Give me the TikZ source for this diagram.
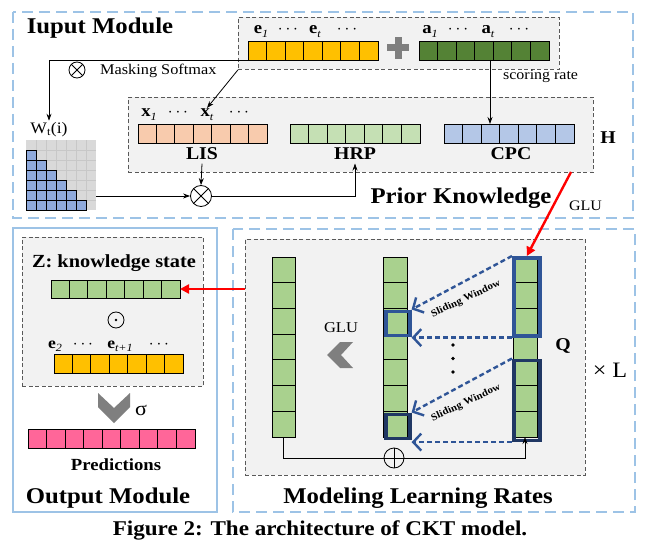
\documentclass[tikz,border=0pt]{standalone}
\usepackage{fontspec}
\setmainfont[FakeStretch=1.1]{Liberation Serif}
\usetikzlibrary{arrows.meta}
\definecolor{boxblue}{HTML}{9DC3E6}
\definecolor{panelgray}{HTML}{F2F2F2}
\definecolor{eyel}{HTML}{FFC000}
\definecolor{agreen}{HTML}{548235}
\definecolor{salmon}{HTML}{F8CBAD}
\definecolor{lgreen}{HTML}{C5E0B4}
\definecolor{lblue}{HTML}{B4C7E7}
\definecolor{mgreen}{HTML}{A9D18E}
\definecolor{pinkc}{HTML}{FF6699}
\definecolor{mblue}{HTML}{8FAADC}
\definecolor{mgray}{HTML}{D9D9D9}
\definecolor{hblue}{HTML}{2F5597}
\definecolor{navy}{HTML}{203864}
\definecolor{chev}{HTML}{7F7F7F}
\newcommand\fsz[1]{\fontsize{#1}{#1}\selectfont}
\newcommand\lsub[1]{\raisebox{-0.45ex}{\fsz{11}\mdseries\itshape #1}}
\newcommand\cellrow[7]{%
  \node[draw, fill=#7, line width=0.8pt, inner sep=0pt, outer sep=0pt, anchor=north west,
        minimum width={(#4)-(#2)}, minimum height={(#5)-(#3)}] (#1) at (#2,#3) {};
  \pgfmathtruncatemacro\nm{#6-1}
  \foreach \k in {1,...,\nm}{%
    \pgfmathsetmacro\xx{#2+(#4-#2)*\k/#6}
    \draw[line width=0.8pt] (\xx,#3) -- (\xx,#5);}
}
\newcommand\cellcol[7]{%
  \node[draw, fill=#7, line width=0.8pt, inner sep=0pt, outer sep=0pt, anchor=north west,
        minimum width={(#4)-(#2)}, minimum height={(#5)-(#3)}] (#1) at (#2,#3) {};
  \pgfmathtruncatemacro\nm{#6-1}
  \foreach \k in {1,...,\nm}{%
    \pgfmathsetmacro\yy{#3+(#5-#3)*\k/#6}
    \draw[line width=0.8pt] (#2,\yy) -- (#4,\yy);}
}
\tikzset{
  outerd/.style={draw=boxblue, line width=2.6pt, dash pattern=on 11pt off 6pt},
  outers/.style={draw=boxblue, line width=2.6pt},
  panel/.style={draw=black!65, fill=panelgray, line width=0.8pt, dash pattern=on 4pt off 2.5pt,
                inner sep=0pt, anchor=north west},
  arr/.style={line width=0.8pt, -{Stealth[length=7pt,width=5pt]}},
  redarr/.style={draw=red, line width=2.4pt, -{Triangle[length=9pt,width=9pt]}},
  slide/.style={draw=hblue, line width=2.4pt, dash pattern=on 5pt off 3pt,
                -{Straight Barb[length=8pt,width=17pt,line width=2.4pt]}},
  hl/.style={draw=#1, line width=3.6pt, inner sep=0pt, anchor=north west},
  opc/.style={draw, circle, line width=0.8pt, inner sep=0pt, minimum size=#1},
  title/.style={font=\fsz{22.5}\bfseries, anchor=base},
  lab/.style={font=\fsz{18}\bfseries, anchor=base},
  emb/.style={font=\fsz{17}, anchor=base, inner sep=1pt},
}
\begin{document}
\begin{tikzpicture}[x=1pt,y=-1pt]
\useasboundingbox (0,0) rectangle (646,543);
\fill[white] (0,0) rectangle (646,543);

% ---------- outer module boxes
\draw[outerd] (13,12) rectangle (633,218);
\draw[outers] (13,228) rectangle (217,512);
\draw[outerd] (233,229) rectangle (635,512);

% ---------- input module
\node[title] (tin) at (100,34) {Iuput Module};
\node[panel, minimum width=321, minimum height=52] (embp) at (238,17) {};
\cellrow{E}{248}{41}{378}{60}{7}{eyel}
\cellrow{A}{419}{41}{549}{60}{7}{agreen}
\fill[chev] (394.5,37) rectangle (401.5,59);
\fill[chev] (387,44.5) rectangle (409,51.5);
\node[emb] (e1) at (261,34) {\textbf{e}\lsub{1}};
\node[emb] (d1) at (288,34) {$\cdots$};
\node[emb] (et) at (315,34) {\textbf{e}\lsub{t}};
\node[emb] (d2) at (347,34) {$\cdots$};
\node[emb] (a1) at (430,34) {\textbf{a}\lsub{1}};
\node[emb] (d3) at (458,34) {$\cdots$};
\node[emb] (at) at (488,34) {\textbf{a}\lsub{t}};
\node[emb] (d4) at (519,34) {$\cdots$};

\node[panel, minimum width=465, minimum height=75] (prior) at (128,97) {};
\cellrow{LIS}{138}{124}{267}{143}{7}{salmon}
\cellrow{HRP}{290}{124}{420}{143}{7}{lgreen}
\cellrow{CPC}{444}{124}{574}{143}{7}{lblue}
\node[lab] (lisl) at (202,160) {LIS};
\node[lab] (hrpl) at (355,160) {HRP};
\node[lab] (cpcl) at (511,160) {CPC};
\node[emb] (x1) at (149,117) {\textbf{x}\lsub{1}};
\node[emb] (d5) at (178,117) {$\cdots$};
\node[emb] (xt) at (207,117) {\textbf{x}\lsub{t}};
\node[emb] (d6) at (239,117) {$\cdots$};
\node[lab] (hl) at (608,143) {H};
\node[title] (tprior) at (461,203) {Prior Knowledge};

% scoring rate
\coordinate (sr) at (490,60);
\draw[arr] (sr) -- (sr |- CPC.north);
\node[font=\fsz{14.5}, anchor=base west, inner sep=0pt] (srl) at (503,80) {scoring rate};

% masking softmax
\node[opc=16] (ms) at (77,70) {};
\draw[line width=0.8pt] (ms.north west) -- (ms.south east) (ms.north east) -- (ms.south west);
\node[font=\fsz{14.8}, anchor=base west, inner sep=0pt] (msl) at (100,75) {Masking Softmax};
\node[font=\fsz{16}, anchor=base, inner sep=1pt] (wl) at (49,133) {W\textsubscript{t}(i)};
\draw[arr] (E.south west) -| (wl.north);
\draw[arr] (embp.south west) -- (xt.north);

% matrix
\node[inner sep=0pt, outer sep=0pt, minimum size=70, anchor=north west] (mat) at (26,140) {};
\fill[mgray] (26,140) rectangle (96,210);
\foreach \i in {1,...,6}{
  \draw[black!22, line width=0.6pt] (26+10*\i,140) -- (26+10*\i,210);
  \draw[black!22, line width=0.6pt] (26,140+10*\i) -- (96,140+10*\i);
}
\foreach \r in {1,...,6}{
  \pgfmathtruncatemacro\cm{\r-1}
  \foreach \c in {0,...,\cm}{
    \filldraw[fill=mblue, draw=black, line width=0.6pt] (26+10*\c,140+10*\r) rectangle ++(10,10);
  }
}
\node[opc=21] (mul) at (201,196) {};
\draw[line width=0.8pt] (mul.north west) -- (mul.south east) (mul.north east) -- (mul.south west);
\draw[arr] (lisl.south) -- (mul.north);
\draw[arr] (mat.east |- mul.west) -- (mul.west);
\draw[arr] (mul.east) -| (hrpl.south);

% GLU red arrow
\coordinate (gs) at (571,172);
\node[font=\fsz{14.5}, anchor=base west, inner sep=0pt] (glu1) at (569,210) {GLU};

% ---------- modeling learning rates
\node[panel, minimum width=340, minimum height=236] (modp) at (245,239) {};
\cellcol{colL}{272}{257}{295}{437}{7}{mgreen}
\cellcol{colM}{383}{257}{407}{437}{7}{mgreen}
\cellcol{colQ}{513}{257}{537}{437}{7}{mgreen}
\node[hl=hblue, minimum width=26, minimum height=78] (qw1) at (512,256) {};
\node[hl=navy, minimum width=26, minimum height=80] (qw2) at (512,358.5) {};
\node[hl=hblue, minimum width=24, minimum height=24] (mh1) at (384,309.5) {};
\node[hl=navy, minimum width=24, minimum height=24] (mh2) at (384,412.5) {};
\draw[slide] (qw1.north west) -- (mh1.north east);
\draw[slide] (qw1.south west) -- (mh1.east |- qw1.south west);
\draw[slide] (qw2.north west) -- (mh2.north east);
\draw[slide] (qw2.south west) -- (mh2.east |- qw2.south west);
\node[font=\fsz{10}\bfseries, rotate=25] (sw1) at (466,299) {Sliding Window};
\node[font=\fsz{10}\bfseries, rotate=25] (sw2) at (466,403) {Sliding Window};
\fill (453,345) circle (1.9) (453,358.5) circle (1.9) (453,372) circle (1.9);
\node[lab] (ql) at (563,350) {Q};
\node[font=\fsz{22}, anchor=base] (xl) at (610,377) {× L};
\node[font=\fsz{15}, anchor=base] (glu2) at (341,332) {GLU};
\fill[chev] (340,342) -- (353,342) -- (341,355) -- (353,368) -- (340,368) -- (327,355) -- cycle;
\node[opc=20] (oplus) at (394,458) {};
\draw[line width=0.8pt] (oplus.north) -- (oplus.south) (oplus.west) -- (oplus.east);
\draw[line width=0.8pt] (colL.south) |- (oplus.west);
\draw[arr] (oplus.east) -| (colQ.south);
\node[title] (tmod) at (418,503) {Modeling Learning Rates};
\draw[redarr] (gs) -- (qw1.north);

% ---------- output module
\node[panel, minimum width=181, minimum height=149] (outp) at (22,237) {};
\node[lab, font=\fsz{18.5}\bfseries] (zl) at (114,267) {Z: knowledge state};
\cellrow{Z}{51}{280}{180}{298}{7}{mgreen}
\node[opc=16] (odot) at (116,320) {};
\fill (odot.center) circle (1.3);
\node[emb, font=\fsz{16}] (e2) at (55,348) {\textbf{e}\lsub{2}};
\node[emb, font=\fsz{16}] (d7) at (83,348) {$\cdots$};
\node[emb, font=\fsz{16}] (et1) at (120,348) {\textbf{e}\lsub{t+1}};
\node[emb, font=\fsz{16}] (d8) at (159,348) {$\cdots$};
\cellrow{E2}{54}{354}{183}{373}{7}{eyel}
\fill[chev] (98,393) -- (114,408) -- (130,393) -- (130,407) -- (114,423) -- (98,407) -- cycle;
\node[font=\fsz{20}, anchor=base] (sig) at (141,415) {σ};
\cellrow{P}{28}{429}{195}{448}{9}{pinkc}
\node[lab, font=\fsz{17}\bfseries] (pl) at (116,470) {Predictions};
\node[title] (tout) at (108,503) {Output Module};
\draw[redarr] (modp.west |- Z.east) -- (Z.east);

% ---------- caption
\node[font=\fsz{21}\bfseries, anchor=base] (cap) at (320,535) {Figure 2: The architecture of CKT model.};
\end{tikzpicture}
\end{document}
